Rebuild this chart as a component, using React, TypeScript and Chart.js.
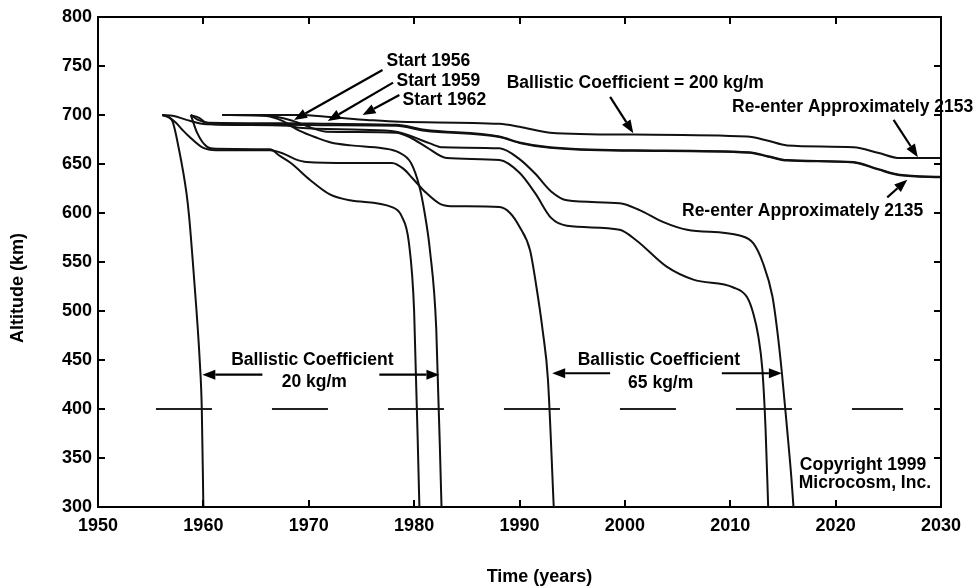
import React, { useEffect, useRef } from "react";
import { Chart, registerables } from "chart.js";

Chart.register(...registerables);

// ---------- axes ----------
const yearMin = 1950;
const yearMax = 2030;
const yearStep = 10;
const altMin = 300;
const altMax = 800;
const altStep = 50;
const xAxisTitle = "Time (years)";
const yAxisTitle = "Altitude (km)";

// ---------- decay curves (year, altitude km) ----------
// Ballistic coefficient 20 kg/m
const bc20Start1956Years = [1956.1, 1957.0, 1957.7, 1958.4, 1958.65, 1959.0, 1959.35, 1959.65, 1959.85, 1960.0];
const bc20Start1956Alt = [700, 695, 664, 620, 596, 550, 500, 450, 400, 300];

const bc20Start1959Years = [1958.8, 1958.9, 1959.4, 1960.3, 1961.2, 1966.3, 1967.3, 1968.3, 1970.1, 1972.0, 1973.9, 1977.9, 1978.8, 1979.5, 1980.0, 1980.5];
const bc20Start1959Alt = [700, 697, 682, 668, 665.5, 665, 658, 651, 634, 619, 613, 606, 597, 570, 500, 300];

const bc20Start1962Years = [1961.8, 1966.0, 1967.5, 1969.1, 1970.7, 1972.1, 1974.0, 1977.0, 1978.5, 1979.7, 1980.5, 1981.0, 1981.5, 1982.1, 1982.6];
const bc20Start1962Alt = [700, 699, 694, 684, 677, 672, 669, 666, 662, 651, 627, 600, 562, 482, 300];

// Ballistic coefficient 65 kg/m
const bc65Start1956Years = [1956.1, 1956.8, 1957.4, 1958.0, 1958.65, 1959.9, 1961.2, 1966.3, 1967.5, 1968.7, 1969.8, 1973.9, 1977.9, 1979.0, 1979.8, 1981.0, 1982.5, 1983.5, 1988.1, 1989.1, 1990.0, 1991.0, 1991.6, 1992.2, 1992.7, 1993.25];
const bc65Start1956Alt = [700, 697, 692, 685, 678, 667, 664, 664, 661, 655, 652, 651, 651, 645, 636, 622, 609, 607, 606, 600, 586, 562, 525, 480, 430, 300];

const bc65Start1959Years = [1958.8, 1959.6, 1960.3, 1962.0, 1968.0, 1969.1, 1975.0, 1978.3, 1979.8, 1981.5, 1982.7, 1988.1, 1990.0, 1991.5, 1993.0, 1994.5, 1999.5, 2001.4, 2003.6, 2005.9, 2010.9, 2012.2, 2013.1, 2014.0, 2014.45, 2014.9, 2015.4, 2015.8, 2016.0];
const bc65Start1959Alt = [700, 697, 692, 690, 689, 687, 685, 683, 678, 671, 667, 666, 655, 640, 622, 613, 610, 603, 591, 583, 577, 569, 549, 515, 481, 437, 379, 330, 300];

const bc65Start1962Years = [1961.8, 1966.0, 1968.5, 1970.5, 1971.7, 1978.3, 1979.8, 1981.2, 1983.1, 1988.1, 1990.0, 1991.5, 1993.0, 1994.5, 1999.5, 2001.1, 2004.0, 2006.5, 2010.3, 2011.6, 2012.2, 2012.65, 2013.05, 2013.35, 2013.6];
const bc65Start1962Alt = [700, 699.5, 694, 686, 683, 682, 676, 667, 656, 654, 641, 620, 595, 587, 583, 572, 545, 532, 524, 514, 497, 475, 440, 380, 300];

// Ballistic coefficient 200 kg/m
const bc200Start1956Years = [1956.1, 1957.2, 1958.4, 1960.3, 1968.0, 1972.0, 1978.3, 1981.0, 1988.1, 1990.0, 1992.9, 2000.8, 2011.8, 2013.6, 2015.4, 2021.7, 2024.0, 2026.1, 2030.0];
const bc200Start1956Alt = [700, 699, 695, 690.5, 690, 689.5, 689, 684, 677.5, 671.5, 666.5, 663.5, 661.5, 657.5, 653.5, 651.5, 644.5, 638.5, 636.5];

const bc200Start1959Years = [1958.8, 1959.5, 1960.5, 1968.0, 1972.0, 1978.3, 1981.0, 1988.1, 1990.0, 1992.9, 2000.8, 2011.8, 2013.6, 2015.4, 2021.7, 2024.0, 2026.1, 2030.0];
const bc200Start1959Alt = [700, 695, 692, 691.5, 691, 690, 685, 678, 672, 667, 664, 662, 658, 654, 652, 645, 639, 637];

const bc200Start1962Years = [1961.8, 1969.1, 1972.0, 1975.5, 1978.6, 1988.1, 1990.0, 1992.9, 2000.8, 2011.6, 2013.5, 2015.4, 2021.7, 2024.0, 2026.1, 2030.0];
const bc200Start1962Alt = [700, 700, 698, 695, 693, 691, 688, 682, 680, 678, 674, 669, 667, 661.5, 656, 656];

// reference altitude (dashed)
const referenceYears = [1955.5, 2026.4];
const referenceAlt = [400, 400];

// ---------- annotation texts ----------
const labelTexts = [
  "Start 1956",
  "Start 1959",
  "Start 1962",
  "Ballistic Coefficient = 200 kg/m",
  "Re-enter Approximately 2153",
  "Re-enter Approximately 2135",
  "Ballistic Coefficient",
  "20 kg/m",
  "Ballistic Coefficient",
  "65 kg/m",
  "Copyright 1999",
  "Microcosm, Inc.",
];
// anchor (year, altitude) and alignment for each label
const labelYears = [1977.38, 1978.33, 1978.9, 1988.78, 2010.17, 2005.42, 1970.34, 1970.53, 2003.23, 2003.4, 2016.6, 2016.5];
const labelAlts = [755, 735, 715.5, 732.7, 708.2, 602, 450, 427.6, 450, 426.5, 343, 324.5];
const labelAlign = ["left", "left", "left", "left", "left", "left", "center", "center", "center", "center", "left", "left"];

// arrows: from (year, alt) -> to (year, alt)
const arrowFromYears = [1977.0, 1978.0, 1978.6, 1998.6, 2025.5, 2024.9, 1965.6, 1976.7, 1998.6, 2009.2];
const arrowFromAlts = [746, 733, 720.5, 718.5, 695, 616, 435, 435, 436.5, 436.5];
const arrowToYears = [1968.6, 1971.8, 1975.1, 2000.8, 2027.8, 2026.8, 1959.9, 1982.4, 1993.1, 2014.9];
const arrowToAlts = [695, 694, 700, 681.5, 657, 634, 435, 435, 436.5, 436.5];

const FONT = '"Liberation Sans", Arial, Helvetica, sans-serif';

function pts(xs: number[], ys: number[]) {
  return xs.map((x, i) => ({ x, y: ys[i] }));
}

const curveSets: [number[], number[]][] = [
  [bc20Start1956Years, bc20Start1956Alt],
  [bc20Start1959Years, bc20Start1959Alt],
  [bc20Start1962Years, bc20Start1962Alt],
  [bc65Start1956Years, bc65Start1956Alt],
  [bc65Start1959Years, bc65Start1959Alt],
  [bc65Start1962Years, bc65Start1962Alt],
  [bc200Start1956Years, bc200Start1956Alt],
  [bc200Start1959Years, bc200Start1959Alt],
  [bc200Start1962Years, bc200Start1962Alt],
];
const curveNames = [
  "BC 20, start 1956",
  "BC 20, start 1959",
  "BC 20, start 1962",
  "BC 65, start 1956",
  "BC 65, start 1959",
  "BC 65, start 1962",
  "BC 200, start 1956",
  "BC 200, start 1959",
  "BC 200, start 1962",
];

const decorPlugin = {
  id: "decor",
  afterDatasetsDraw(chart: any) {
    const { ctx, chartArea, scales } = chart;
    const xs = scales.x;
    const ys = scales.y;
    ctx.save();
    ctx.strokeStyle = "#000";
    ctx.fillStyle = "#000";
    ctx.lineWidth = 2;
    ctx.lineCap = "butt";
    // top & right frame
    ctx.beginPath();
    ctx.moveTo(chartArea.left - 1, chartArea.top);
    ctx.lineTo(chartArea.right, chartArea.top);
    ctx.lineTo(chartArea.right, chartArea.bottom + 1);
    ctx.stroke();
    // inward tick marks
    const tl = 7;
    ctx.beginPath();
    xs.ticks.forEach((t: any) => {
      if (t.value <= yearMin || t.value >= yearMax) return;
      const px = Math.round(xs.getPixelForValue(t.value));
      ctx.moveTo(px, chartArea.bottom);
      ctx.lineTo(px, chartArea.bottom - tl);
      ctx.moveTo(px, chartArea.top);
      ctx.lineTo(px, chartArea.top + tl);
    });
    ys.ticks.forEach((t: any) => {
      if (t.value <= altMin || t.value >= altMax) return;
      const py = Math.round(ys.getPixelForValue(t.value));
      ctx.moveTo(chartArea.left, py);
      ctx.lineTo(chartArea.left + tl, py);
      ctx.moveTo(chartArea.right, py);
      ctx.lineTo(chartArea.right - tl, py);
    });
    ctx.stroke();

    // arrows
    ctx.lineWidth = 2.2;
    arrowFromYears.forEach((fy, i) => {
      const x1 = xs.getPixelForValue(fy);
      const y1 = ys.getPixelForValue(arrowFromAlts[i]);
      const x2 = xs.getPixelForValue(arrowToYears[i]);
      const y2 = ys.getPixelForValue(arrowToAlts[i]);
      const ang = Math.atan2(y2 - y1, x2 - x1);
      const hl = 13;
      const hw = 5;
      const bx = x2 - hl * Math.cos(ang);
      const by = y2 - hl * Math.sin(ang);
      ctx.beginPath();
      ctx.moveTo(x1, y1);
      ctx.lineTo(bx, by);
      ctx.stroke();
      ctx.beginPath();
      ctx.moveTo(x2, y2);
      ctx.lineTo(bx + hw * Math.sin(ang), by - hw * Math.cos(ang));
      ctx.lineTo(bx - hw * Math.sin(ang), by + hw * Math.cos(ang));
      ctx.closePath();
      ctx.fill();
    });

    // labels
    ctx.font = `bold 17.5px ${FONT}`;
    ctx.textBaseline = "middle";
    labelTexts.forEach((txt, i) => {
      ctx.textAlign = labelAlign[i] as CanvasTextAlign;
      ctx.fillText(txt, xs.getPixelForValue(labelYears[i]), ys.getPixelForValue(labelAlts[i]));
    });

    // axis titles
    ctx.font = `bold 18px ${FONT}`;
    ctx.textAlign = "center";
    ctx.fillText(xAxisTitle, (chartArea.left + chartArea.right) / 2 + 20, chartArea.bottom + 70);
    ctx.save();
    ctx.translate(chartArea.left - 80, (chartArea.top + chartArea.bottom) / 2 + 26);
    ctx.rotate(-Math.PI / 2);
    ctx.fillText(yAxisTitle, 0, 0);
    ctx.restore();
    ctx.restore();
  },
};

export default function App() {
  const ref = useRef<HTMLCanvasElement | null>(null);
  useEffect(() => {
    if (!ref.current) return;
    const datasets: any[] = curveSets.map(([xs, ys], i) => ({
      label: curveNames[i],
      data: pts(xs, ys),
      borderColor: "#111",
      borderWidth: 2,
      pointRadius: 0,
      fill: false,
      cubicInterpolationMode: "monotone",
    }));
    datasets.push({
      label: "Reference 400 km",
      data: pts(referenceYears, referenceAlt),
      borderColor: "#222",
      borderWidth: 1.8,
      borderDash: [56, 60],
      pointRadius: 0,
      fill: false,
    });
    const chart = new Chart(ref.current, {
      type: "line",
      data: { datasets },
      plugins: [decorPlugin],
      options: {
        animation: false,
        responsive: false,
        devicePixelRatio: 1,
        layout: { padding: { top: 17, right: 35, left: 0, bottom: 0 } },
        plugins: { legend: { display: false }, tooltip: { enabled: false } },
        scales: {
          x: {
            type: "linear",
            min: yearMin,
            max: yearMax,
            grid: { display: false, drawTicks: false },
            border: { display: true, color: "#000", width: 2 },
            ticks: {
              stepSize: yearStep,
              color: "#000",
              padding: 8,
              font: { family: FONT, size: 18, weight: "bold" },
              callback: (v: any) => String(v),
              maxRotation: 0,
            },
            afterFit: (s: any) => {
              s.height = 80;
            },
          },
          y: {
            type: "linear",
            min: altMin,
            max: altMax,
            grid: { display: false, drawTicks: false },
            border: { display: true, color: "#000", width: 2 },
            ticks: {
              stepSize: altStep,
              color: "#000",
              padding: 6,
              font: { family: FONT, size: 18, weight: "bold" },
              callback: (v: any) => String(v),
            },
            afterFit: (s: any) => {
              s.width = 98;
            },
          },
        },
      },
    } as any);
    return () => chart.destroy();
  }, []);
  return (
    <div style={{ position: "absolute", left: 0, top: 0, width: 976, height: 587, background: "#fff" }}>
      <canvas ref={ref} width={976} height={587} style={{ display: "block" }} />
    </div>
  );
}
